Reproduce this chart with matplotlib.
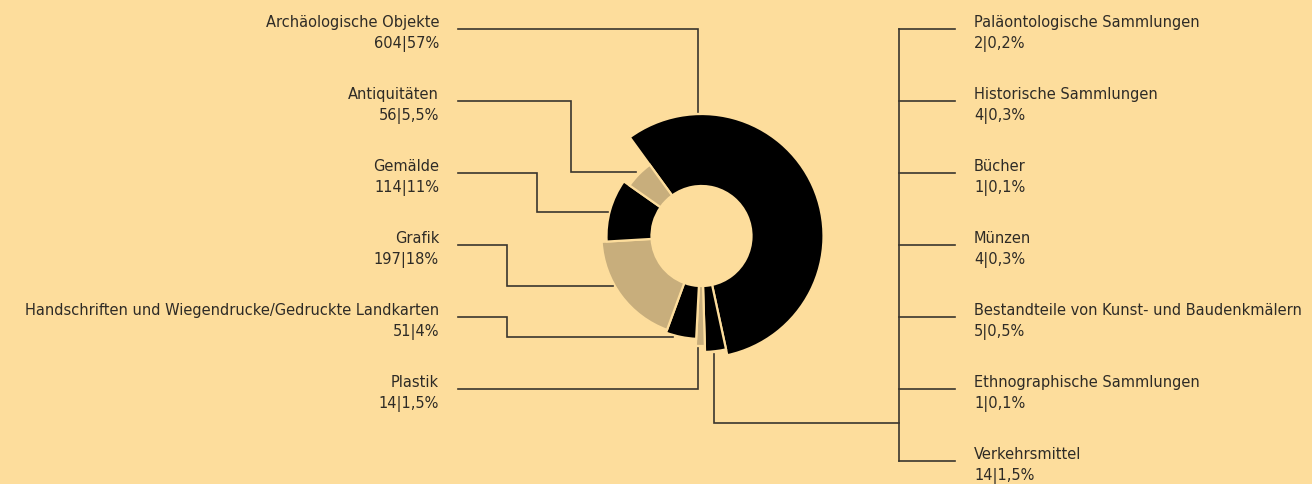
import matplotlib.pyplot as plt
from matplotlib.patches import Wedge
import numpy as np

# Data
ring_labels = ['Archäologische Objekte', 'Übrige Sammlungen', 'Plastik',
               'Handschriften und Wiegendrucke/Gedruckte Landkarten',
               'Grafik', 'Gemälde', 'Antiquitäten']
ring_counts = [604, 31, 14, 51, 197, 114, 56]

left_labels = ['Archäologische Objekte', 'Antiquitäten', 'Gemälde', 'Grafik',
               'Handschriften und Wiegendrucke/Gedruckte Landkarten', 'Plastik']
left_values = ['604|57%', '56|5,5%', '114|11%', '197|18%', '51|4%', '14|1,5%']

right_labels = ['Paläontologische Sammlungen', 'Historische Sammlungen', 'Bücher',
                'Münzen', 'Bestandteile von Kunst- und Baudenkmälern',
                'Ethnographische Sammlungen', 'Verkehrsmittel']
right_values = ['2|0,2%', '4|0,3%', '1|0,1%', '4|0,3%', '5|0,5%', '1|0,1%', '14|1,5%']

# Styling
bg = '#FDDD9C'
tan = '#C8AE7C'
ring_colors = ['black', 'black', tan, 'black', tan, 'black', tan]
outer_radii = [122, 116, 110, 103, 100, 95, 88]
inner_r = 50
cx, cy = 701.5, 237
start_angle = -36  # clockwise degrees from top
text_col = '#2E2B26'
line_col = '#3A362E'

fig = plt.figure(figsize=(13.12, 4.85), dpi=100, facecolor=bg)
ax = fig.add_axes([0, 0, 1, 1])
ax.set_xlim(0, 1312)
ax.set_ylim(485, 0)
ax.set_facecolor(bg)
ax.axis('off')

# Ring (clockwise on screen since y is inverted)
angles = np.cumsum([0] + ring_counts) / sum(ring_counts) * 360 + start_angle
for i in range(len(ring_counts)):
    w = Wedge((cx, cy), outer_radii[i], angles[i] - 90, angles[i + 1] - 90,
              width=outer_radii[i] - inner_r, facecolor=ring_colors[i],
              edgecolor=bg, linewidth=1.6)
    ax.add_patch(w)

# Left labels
for i, (lab, val) in enumerate(zip(left_labels, left_values)):
    y = 30 + 72 * i
    ax.text(439, y - 3, lab, ha='right', va='baseline', fontsize=10.5, color=text_col)
    ax.text(439, y + 18, val, ha='right', va='baseline', fontsize=10.5, color=text_col)

# Right labels
for i, (lab, val) in enumerate(zip(right_labels, right_values)):
    y = 30 + 72 * i
    ax.text(974, y - 3, lab, ha='left', va='baseline', fontsize=10.5, color=text_col)
    ax.text(974, y + 18, val, ha='left', va='baseline', fontsize=10.5, color=text_col)
    ax.plot([899, 955], [y, y], color=line_col, lw=1.2)
ax.plot([899, 899], [30, 462], color=line_col, lw=1.2)

# Leader lines
leaders = [
    [(458, 30), (698, 30), (698, 113)],
    [(458, 102), (571, 102), (571, 173), (636, 173)],
    [(458, 174), (537, 174), (537, 213), (608, 213)],
    [(458, 246), (507, 246), (507, 287), (613, 287)],
    [(458, 318), (507, 318), (507, 338), (673, 338)],
    [(458, 390), (698, 390), (698, 349)],
    [(714, 355), (714, 424), (899, 424)],
]
for pts in leaders:
    xs, ys = zip(*pts)
    ax.plot(xs, ys, color=line_col, lw=1.2, solid_joinstyle='miter')

fig.savefig('out.png', dpi=100, facecolor=bg)
